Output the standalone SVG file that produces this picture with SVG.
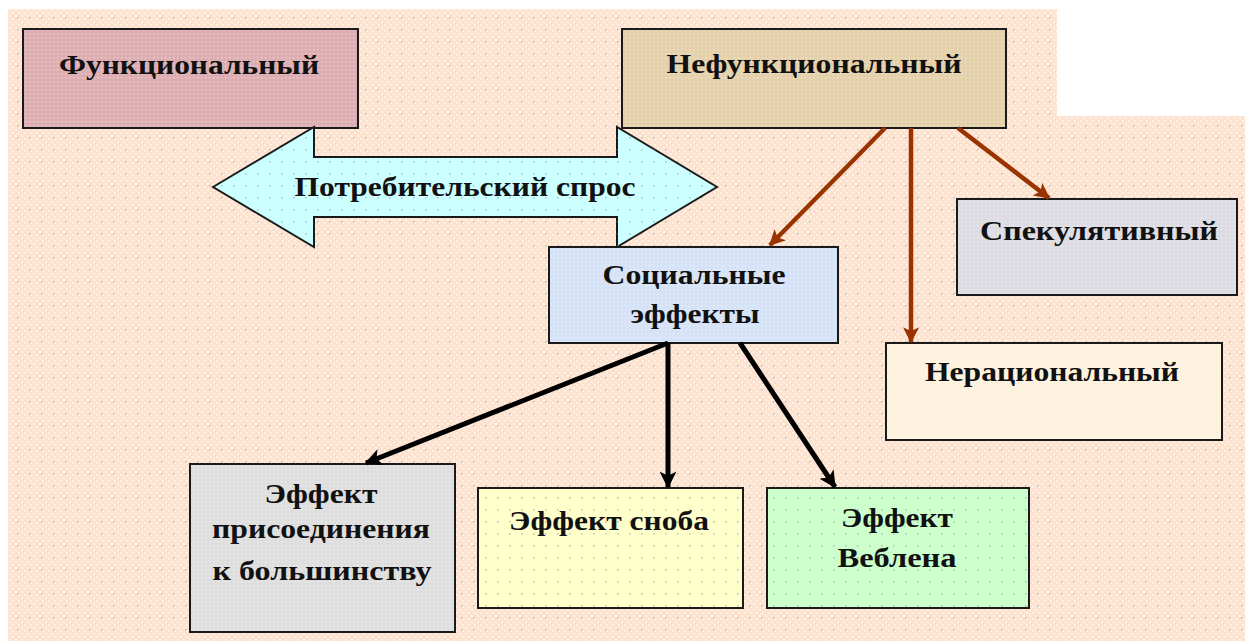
<svg xmlns="http://www.w3.org/2000/svg" width="1250" height="641" viewBox="0 0 1250 641">
<style>
.box{stroke:#1a1a1a;stroke-width:2}
.t{font-family:"Liberation Serif","Times New Roman",serif;font-weight:bold;font-size:28px;fill:#111;text-anchor:middle}
.brown{stroke:#993300;stroke-width:4.5;fill:none}
.black{stroke:#000;stroke-width:5;fill:none}
</style>
<defs>
<pattern id="bgp" width="6" height="6" patternUnits="userSpaceOnUse">
<rect width="6" height="6" fill="#fde2d4"/>
<rect x="0" y="0" width="2" height="2" fill="#fff4d8"/>
<rect x="3" y="3" width="2" height="2" fill="#fff4d8"/>
</pattern>
<pattern id="dots" width="12" height="12" patternUnits="userSpaceOnUse">
<rect x="5" y="5" width="1.6" height="1.6" fill="#8fa0a8" opacity="0.55"/>
</pattern>
<pattern id="fine" width="4" height="4" patternUnits="userSpaceOnUse">
<rect x="1" y="1" width="1.5" height="1.5" fill="#ffffff" opacity="0.35"/>
</pattern>
<marker id="ab" viewBox="0 0 12 12" refX="11" refY="6" markerWidth="16" markerHeight="16" markerUnits="userSpaceOnUse" orient="auto">
<path d="M0,0 L12,6 L0,12 L3,6 z" fill="#993300"/>
</marker>
<marker id="ak" viewBox="0 0 12 12" refX="11" refY="6" markerWidth="17" markerHeight="17" markerUnits="userSpaceOnUse" orient="auto">
<path d="M0,0 L12,6 L0,12 L3,6 z" fill="#000"/>
</marker>
</defs>
<rect width="1250" height="641" fill="#ffffff"/>
<g id="background">
<polygon points="8,9 1057,9 1057,116 1245,116 1245,641 8,641" fill="url(#bgp)"/>
<polygon points="8,9 1057,9 1057,116 1245,116 1245,641 8,641" fill="url(#dots)"/>
</g>
<g id="functional">
<rect class="box" x="23" y="29" width="335" height="99" fill="#dcaeb2"/>
<rect x="24" y="30" width="333" height="97" fill="url(#fine)"/>
<text class="t" x="189" y="74" textLength="260" lengthAdjust="spacingAndGlyphs">Функциональный</text>
</g>
<g id="nonfunctional">
<rect class="box" x="622" y="29" width="384" height="99" fill="#e4d0aa"/>
<rect x="623" y="30" width="382" height="97" fill="url(#fine)"/>
<text class="t" x="814" y="73" textLength="295" lengthAdjust="spacingAndGlyphs">Нефункциональный</text>
</g>
<g id="demand">
<polygon class="box" points="213,187 314,127 314,157 617,157 617,127 717,187 617,247 617,217 314,217 314,247" fill="#ccffff"/>
<polygon points="213,187 314,127 314,157 617,157 617,127 717,187 617,247 617,217 314,217 314,247" fill="url(#dots)"/>
<text class="t" x="465" y="196" textLength="341" lengthAdjust="spacingAndGlyphs">Потребительский спрос</text>
</g>
<g id="social">
<rect class="box" x="549" y="247" width="289" height="96" fill="#d6e2f6"/>
<rect x="550" y="248" width="287" height="94" fill="url(#fine)"/>
<text class="t" x="694" y="284" textLength="183" lengthAdjust="spacingAndGlyphs">Социальные</text>
<text class="t" x="695" y="323" textLength="129" lengthAdjust="spacingAndGlyphs">эффекты</text>
</g>
<g id="speculative">
<rect class="box" x="957" y="199" width="280" height="96" fill="#dcdce2"/>
<rect x="958" y="200" width="278" height="94" fill="url(#fine)"/>
<text class="t" x="1099" y="240" textLength="238" lengthAdjust="spacingAndGlyphs">Спекулятивный</text>
</g>
<g id="irrational">
<rect class="box" x="886" y="343" width="336" height="97" fill="#fdf2de"/>
<rect x="887" y="344" width="334" height="95" fill="url(#fine)"/>
<text class="t" x="1052" y="381" textLength="254" lengthAdjust="spacingAndGlyphs">Нерациональный</text>
</g>
<g id="bandwagon">
<rect class="box" x="190" y="464" width="265" height="168" fill="#dedede"/>
<rect x="191" y="465" width="263" height="166" fill="url(#fine)"/>
<text class="t" x="321" y="503" textLength="113" lengthAdjust="spacingAndGlyphs">Эффект</text>
<text class="t" x="321" y="538" textLength="218" lengthAdjust="spacingAndGlyphs">присоединения</text>
<text class="t" x="322" y="580" textLength="219" lengthAdjust="spacingAndGlyphs">к большинству</text>
</g>
<g id="snob">
<rect class="box" x="478" y="488" width="265" height="120" fill="#ffffcc"/>
<rect x="479" y="489" width="263" height="118" fill="url(#dots)"/>
<text class="t" x="609" y="530" textLength="200" lengthAdjust="spacingAndGlyphs">Эффект сноба</text>
</g>
<g id="veblen">
<rect class="box" x="767" y="488" width="262" height="120" fill="#ccffcc"/>
<rect x="768" y="489" width="260" height="118" fill="url(#dots)"/>
<text class="t" x="897" y="527" textLength="112" lengthAdjust="spacingAndGlyphs">Эффект</text>
<text class="t" x="897" y="567" textLength="119" lengthAdjust="spacingAndGlyphs">Веблена</text>
</g>
<g id="connectors">
<line class="brown" x1="885" y1="128" x2="770" y2="245" marker-end="url(#ab)"/>
<line class="brown" x1="911" y1="128" x2="911" y2="342" marker-end="url(#ab)"/>
<line class="brown" x1="958" y1="128" x2="1049" y2="198" marker-end="url(#ab)"/>
<line class="black" x1="668" y1="343" x2="366" y2="463" marker-end="url(#ak)"/>
<line class="black" x1="668" y1="343" x2="668" y2="487" marker-end="url(#ak)"/>
<line class="black" x1="740" y1="343" x2="835" y2="487" marker-end="url(#ak)"/>
</g>
</svg>
